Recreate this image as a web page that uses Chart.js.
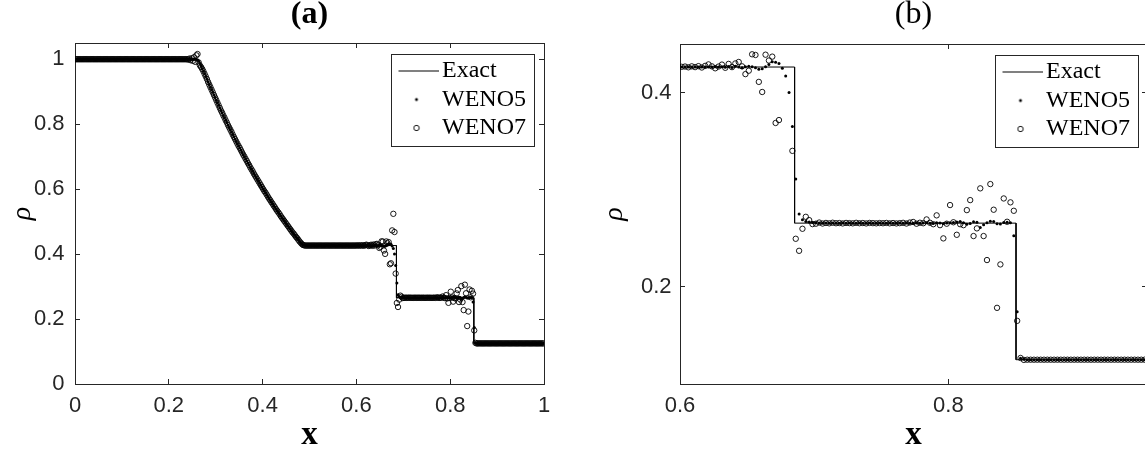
<!DOCTYPE html>
<html><head><meta charset="utf-8">
<script src="https://cdn.jsdelivr.net/npm/chart.js@4.4.0/dist/chart.umd.min.js"></script>
<style>
html,body{margin:0;padding:0;background:#fff;overflow:hidden;width:1145px;height:453px;}
#wa{position:absolute;left:0;top:0;width:580px;height:453px;}
#wb{position:absolute;left:580px;top:0;width:600px;height:453px;}
canvas{display:block;}
</style></head><body>
<div id="wa"><canvas id="ca" width="580" height="453"></canvas></div>
<div id="wb"><canvas id="cb" width="600" height="453"></canvas></div>
<script>
// ---------------- data ----------------
const cellCount = 400;           // uniform cells on [0,1]
const seriesNames = ['Exact', 'WENO5', 'WENO7'];

// exact solution (polyline vertices)
const exactX = [0, 0.2634, 0.26375, 0.27375, 0.28375, 0.29375, 0.30375, 0.31375, 0.32375, 0.33375, 0.34375,
  0.35375, 0.36375, 0.37375, 0.38375, 0.39375, 0.40375, 0.41375, 0.42375, 0.43375, 0.44375, 0.45375,
  0.46375, 0.47375, 0.48375, 0.4859, 0.6854, 0.6854, 0.8504, 0.8504, 1];
const exactY = [1, 1, 0.9987, 0.9639, 0.9304, 0.8976, 0.8657, 0.8348, 0.8048, 0.7756, 0.7474,
  0.7198, 0.6931, 0.6673, 0.6423, 0.6179, 0.5943, 0.5713, 0.5493, 0.5279, 0.5071, 0.4869,
  0.4673, 0.4486, 0.4302, 0.4263, 0.4263, 0.2656, 0.2656, 0.125, 0.125];

// WENO5 cell values (400 cells)
const weno5 = [
  1,1,1,1,1,1,1,1,1,1,
  1,1,1,1,1,1,1,1,1,1,
  1,1,1,1,1,1,1,1,1,1,
  1,1,1,1,1,1,1,1,1,1,
  1,1,1,1,1,1,1,1,1,1,
  1,1,1,1,1,1,1,1,1,1,
  1,1,1,1,1,1,1,1,1,1,
  1,1,1,1,1,1,1,1,1,1,
  1,1,1,1,1,1,1,1,1,1,
  1,1,1,1,1,1,1,1,1,1,
  1,1,1,0.999,0.998,0.994,0.987,0.979,0.971,0.963,
  0.955,0.947,0.939,0.930,0.922,0.914,0.906,0.898,0.890,0.882,
  0.874,0.866,0.858,0.850,0.842,0.835,0.827,0.820,0.812,0.805,
  0.797,0.790,0.783,0.776,0.768,0.761,0.754,0.747,0.740,0.733,
  0.727,0.720,0.713,0.706,0.700,0.693,0.687,0.680,0.674,0.667,
  0.661,0.655,0.648,0.642,0.636,0.630,0.624,0.618,0.612,0.606,
  0.600,0.594,0.589,0.583,0.577,0.571,0.566,0.560,0.555,0.549,
  0.544,0.538,0.533,0.528,0.523,0.517,0.512,0.507,0.502,0.497,
  0.492,0.487,0.482,0.477,0.472,0.467,0.463,0.458,0.453,0.449,
  0.444,0.439,0.435,0.431,0.428,0.427,0.4265,0.4263,0.4263,0.4263,
  0.4263,0.4263,0.4263,0.4263,0.4263,0.4263,0.4263,0.4263,0.4263,0.4263,
  0.4263,0.4263,0.4263,0.4263,0.4263,0.4263,0.4263,0.4263,0.4263,0.4263,
  0.4263,0.4263,0.4263,0.4263,0.4263,0.4263,0.4263,0.4263,0.4263,0.4263,
  0.4263,0.4263,0.4263,0.4263,0.4263,0.4263,0.4263,0.4263,0.4263,0.4263,
  0.4263,0.4263,0.4263,0.4263,0.4263,0.4263,0.4263,0.4263,0.4263,0.4263,
  0.4265,0.4262,0.4266,0.4260,0.4268,0.4258,0.4270,0.4262,0.4255,0.4265,
  0.4270,0.4265,0.4255,0.4240,0.4245,0.4265,0.4290,0.4318,0.4311,0.4300,
  0.4250,0.4170,0.4000,0.3650,0.3110,0.2750,0.2690,0.2672,0.2668,0.2662,
  0.2660,0.2657,0.2655,0.2658,0.2654,0.2657,0.2656,0.2655,0.2658,0.2656,
  0.2657,0.2655,0.2656,0.2658,0.2655,0.2656,0.2657,0.2654,0.2656,0.2657,
  0.2656,0.2655,0.2658,0.2656,0.2654,0.2657,0.2656,0.2658,0.2655,0.2656,
  0.2657,0.2655,0.2658,0.2660,0.2654,0.2652,0.2660,0.2658,0.2653,0.2657,
  0.2660,0.2662,0.2668,0.2672,0.2660,0.2645,0.2652,0.2670,0.2666,0.2612,
  0.2640,0.2660,0.2676,0.2672,0.2650,0.2648,0.2662,0.2664,0.2660,0.2526,
  0.1743,0.1266,0.1254,0.125,0.125,0.125,0.125,0.125,0.125,0.125,
  0.125,0.125,0.125,0.125,0.125,0.125,0.125,0.125,0.125,0.125,
  0.125,0.125,0.125,0.125,0.125,0.125,0.125,0.125,0.125,0.125,
  0.125,0.125,0.125,0.125,0.125,0.125,0.125,0.125,0.125,0.125,
  0.125,0.125,0.125,0.125,0.125,0.125,0.125,0.125,0.125,0.125,
  0.125,0.125,0.125,0.125,0.125,0.125,0.125,0.125,0.125,0.125
];

// WENO7 cell values (400 cells)
const weno7 = [
  1,1,1,1,1,1,1,1,1,1,
  1,1,1,1,1,1,1,1,1,1,
  1,1,1,1,1,1,1,1,1,1,
  1,1,1,1,1,1,1,1,1,1,
  1,1,1,1,1,1,1,1,1,1,
  1,1,1,1,1,1,1,1,1,1,
  1,1,1,1,1,1,1,1,1,1,
  1,1,1,1,1,1,1,1,1,1,
  1,1,1,1,1,1,1,1,1,1,
  1,1,1,1,1,1,0.999,1.002,0.997,1.003,
  0.995,1.006,0.992,1.012,1.016,0.990,0.981,0.976,0.970,0.963,
  0.955,0.947,0.939,0.930,0.922,0.914,0.906,0.898,0.890,0.882,
  0.874,0.866,0.858,0.850,0.842,0.835,0.827,0.820,0.812,0.805,
  0.797,0.790,0.783,0.776,0.768,0.761,0.754,0.747,0.740,0.733,
  0.727,0.720,0.713,0.706,0.700,0.693,0.687,0.680,0.674,0.667,
  0.661,0.655,0.648,0.642,0.636,0.630,0.624,0.618,0.612,0.606,
  0.600,0.594,0.589,0.583,0.577,0.571,0.566,0.560,0.555,0.549,
  0.544,0.538,0.533,0.528,0.523,0.517,0.512,0.507,0.502,0.497,
  0.492,0.487,0.482,0.477,0.472,0.467,0.463,0.458,0.453,0.449,
  0.444,0.439,0.435,0.431,0.428,0.4268,0.4262,0.4263,0.4263,0.4263,
  0.4263,0.4263,0.4263,0.4263,0.4263,0.4263,0.4263,0.4263,0.4263,0.4263,
  0.4263,0.4263,0.4263,0.4263,0.4263,0.4263,0.4263,0.4263,0.4263,0.4263,
  0.4263,0.4263,0.4263,0.4263,0.4263,0.4263,0.4263,0.4263,0.4263,0.4263,
  0.4263,0.4263,0.4263,0.4263,0.4263,0.4263,0.4263,0.4263,0.4263,0.4263,
  0.4265,0.4268,0.4260,0.4270,0.4262,0.4272,0.4258,0.4275,0.4290,0.4270,
  0.4250,0.4268,0.4288,0.4255,0.4295,0.4262,0.4300,0.4315,0.4270,0.4190,
  0.4225,0.4394,0.4387,0.4110,0.4006,0.4390,0.4330,0.4370,0.3687,0.3717,
  0.4730,0.5240,0.4680,0.3400,0.2495,0.2371,0.2598,0.2721,0.2687,0.2646,
  0.2650,0.2662,0.2652,0.2658,0.2654,0.2660,0.2655,0.2657,0.2653,0.2658,
  0.2656,0.2654,0.2659,0.2655,0.2657,0.2653,0.2658,0.2656,0.2654,0.2657,
  0.2655,0.2658,0.2654,0.2657,0.2653,0.2656,0.2659,0.2652,0.2662,0.2668,
  0.2650,0.2660,0.2655,0.2694,0.2660,0.2645,0.2736,0.2635,0.2499,0.2650,
  0.2842,0.2665,0.2536,0.2645,0.2635,0.2790,0.2893,0.2523,0.2602,0.3014,
  0.2523,0.2276,0.3058,0.2794,0.1784,0.2231,0.2910,0.2670,0.2870,0.2783,
  0.1650,0.1268,0.1248,0.125,0.125,0.125,0.125,0.125,0.125,0.125,
  0.125,0.125,0.125,0.125,0.125,0.125,0.125,0.125,0.125,0.125,
  0.125,0.125,0.125,0.125,0.125,0.125,0.125,0.125,0.125,0.125,
  0.125,0.125,0.125,0.125,0.125,0.125,0.125,0.125,0.125,0.125,
  0.125,0.125,0.125,0.125,0.125,0.125,0.125,0.125,0.125,0.125,
  0.125,0.125,0.125,0.125,0.125,0.125,0.125,0.125,0.125,0.125
];

// axes
const xTicksA = [0, 0.2, 0.4, 0.6, 0.8, 1];
const yTicksA = [0, 0.2, 0.4, 0.6, 0.8, 1];
const xRangeA = [0, 1];
const yRangeA = [0, 1.05];
const xTicksB = [0.6, 0.8];
const yTicksB = [0.2, 0.4];
const xRangeB = [0.6, 0.948];
const yRangeB = [0.1, 0.45];

// ---------------- rendering ----------------
const SERIF = "'Liberation Serif', 'Times New Roman', serif";
const SANS = "'Liberation Sans', Arial, Helvetica, sans-serif";
const AX = '#262626';

const cellX = weno5.map((_, i) => (i + 0.5) / cellCount);
const pts = (xs, ys) => ys.map((y, i) => ({x: xs[i], y}));

function makeIcon(w, h, draw) {
  const c = document.createElement('canvas');
  c.width = w; c.height = h;
  draw(c.getContext('2d'));
  return c;
}
const icons = [
  makeIcon(44, 3, g => { g.strokeStyle = '#000'; g.lineWidth = 1; g.beginPath(); g.moveTo(0, 1.5); g.lineTo(44, 1.5); g.stroke(); }),
  makeIcon(6, 6, g => { g.fillStyle = '#000'; g.beginPath(); g.arc(3, 3, 1.5, 0, Math.PI * 2); g.fill(); }),
  makeIcon(8, 8, g => { g.strokeStyle = '#000'; g.lineWidth = 0.9; g.beginPath(); g.arc(4, 4, 2.7, 0, Math.PI * 2); g.stroke(); })
];

const legendFrame = {
  id: 'legendFrame',
  frame(chart, o) {
    const ca = chart.chartArea;
    const x = ca.right - o.insetRight - o.width;
    const y = ca.top + o.insetTop;
    return {x, y, w: o.width, h: o.height};
  },
  afterLayout(chart, args, o) {
    const f = this.frame(chart, o);
    const lg = chart.legend;
    lg.left = f.x + 7.5; lg.top = f.y + 0.5;
    lg.right = f.x + f.w; lg.bottom = f.y + f.h + 30;
    lg.width = lg.right - lg.left; lg.height = lg.bottom - lg.top;
  },
  afterDraw(chart, args, o) {
    const f = this.frame(chart, o);
    const ctx = chart.ctx;
    ctx.save();
    ctx.strokeStyle = o.color; ctx.lineWidth = o.lineWidth;
    ctx.strokeRect(Math.round(f.x) + 0.5, Math.round(f.y) + 0.5, Math.round(f.w), Math.round(f.h));
    ctx.restore();
  }
};

function makeChart(canvasId, p) {
  const frame = {display: true, color: AX, width: 1};
  const grid = {display: true, drawOnChartArea: false, drawTicks: true, tickLength: -5, tickColor: AX, tickWidth: 1, color: AX};
  const setTicks = vals => scale => { scale.ticks = vals.map(v => ({value: v})); };
  const tickFont = {family: SANS, size: 22};
  return new Chart(document.getElementById(canvasId), {
    type: 'scatter',
    data: {
      datasets: [
        {label: seriesNames[0], data: pts(exactX, exactY), showLine: true, borderColor: '#000', borderWidth: 1,
         pointRadius: 0, tension: 0, order: 3, clip: 0},
        {label: seriesNames[1], data: pts(cellX, weno5), showLine: false, pointRadius: 1.5, pointBorderWidth: 0,
         pointBackgroundColor: '#000', pointBorderColor: '#000', order: 2, clip: 0},
        {label: seriesNames[2], data: pts(cellX, weno7), showLine: false, pointRadius: 2.7, pointBorderWidth: 0.9,
         pointBackgroundColor: 'rgba(0,0,0,0)', pointBorderColor: '#000', order: 1, clip: 0}
      ]
    },
    options: {
      responsive: false, animation: false, events: [], devicePixelRatio: 1,
      layout: {padding: 0},
      scales: {
        x: {type: 'linear', position: 'bottom', min: p.xRange[0], max: p.xRange[1],
            afterBuildTicks: setTicks(p.xTicks), afterFit: s => { s.height = p.bottomH; },
            border: frame, grid,
            ticks: {autoSkip: false, maxRotation: 0, padding: 14, color: AX, font: tickFont, callback: v => String(v)},
            title: {display: true, text: 'x', color: '#000', font: {family: SERIF, size: 33, weight: 'bold'}, padding: {top: 0, bottom: -2}}},
        x2: {type: 'linear', position: 'top', min: p.xRange[0], max: p.xRange[1],
            afterBuildTicks: setTicks(p.xTicks), afterFit: s => { s.height = 0; },
            border: frame, grid, ticks: {display: false}},
        y: {type: 'linear', position: 'left', min: p.yRange[0], max: p.yRange[1],
            afterBuildTicks: setTicks(p.yTicks), afterFit: s => { s.width = p.leftW; },
            border: frame, grid,
            ticks: {autoSkip: false, padding: p.yPad, color: AX, font: tickFont, callback: v => String(v)},
            title: {display: true, text: 'ρ', color: '#000', font: {family: SERIF, size: 28, style: 'italic'}, padding: {top: p.rhoPad, bottom: 0}}},
        y2: {type: 'linear', position: 'right', min: p.yRange[0], max: p.yRange[1],
            afterBuildTicks: setTicks(p.yTicks), afterFit: s => { s.width = p.rightW; },
            border: frame, grid, ticks: {display: false}}
      },
      plugins: {
        tooltip: {enabled: false},
        title: {display: true, text: p.title, fullSize: false, color: '#000',
                font: {family: SERIF, size: 32, weight: p.titleWeight, lineHeight: 0.9},
                padding: {top: 0, bottom: p.titleBottom}},
        legend: {display: true, position: 'chartArea', align: 'start',
          labels: {usePointStyle: true, pointStyleWidth: 27, padding: 4.5, color: '#000',
                   font: {family: SERIF, size: 24},
                   generateLabels: chart => chart.data.datasets.map((ds, i) => ({
                     text: ds.label, pointStyle: icons[i], datasetIndex: i, hidden: false,
                     lineWidth: 0, strokeStyle: 'rgba(0,0,0,0)', fillStyle: 'rgba(0,0,0,0)', fontColor: '#000'}))}},
        legendFrame: {insetRight: p.legRight, insetTop: 11, width: 143, height: 92, color: AX, lineWidth: 1}
      }
    },
    plugins: [legendFrame]
  });
}

makeChart('ca', {title: '(a)', titleWeight: 'bold', titleBottom: 14.2, xRange: xRangeA, yRange: yRangeA,
  xTicks: xTicksA, yTicks: yTicksA, leftW: 75, rightW: 36, bottomH: 69, yPad: 15.5, rhoPad: 6, legRight: 10});
makeChart('cb', {title: '(b)', titleWeight: 'normal', titleBottom: 15.2, xRange: xRangeB, yRange: yRangeB,
  xTicks: xTicksB, yTicks: yTicksB, leftW: 100, rightW: 33, bottomH: 69, yPad: 13.5, rhoPad: 18, legRight: 9});
</script>
</body></html>
